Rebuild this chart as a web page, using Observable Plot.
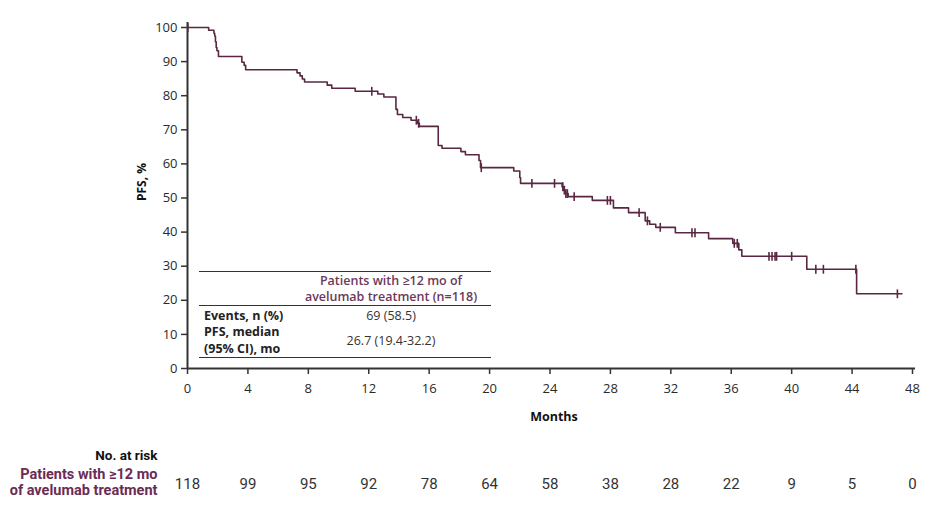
<!DOCTYPE html>
<html><head><meta charset="utf-8">
<script src="https://cdn.jsdelivr.net/npm/d3@7"></script>
<script src="https://cdn.jsdelivr.net/npm/@observablehq/plot@0.6"></script>
<style>
body{margin:0;background:#fff;}
#wrap{position:relative;width:946px;height:512px;font-family:"Open Sans",sans-serif;color:#2a2a2a;}
#wrap svg{position:absolute;left:0;top:0;}
.hl{position:absolute;left:199px;width:292px;height:0;border-top:1.6px solid #333;}
.t{position:absolute;font-size:12.5px;line-height:14px;height:14px;white-space:nowrap;}
.lab{left:204px;font-weight:700;color:#222;}
.val{left:311px;width:160px;text-align:center;color:#333;}
.hdr{left:301px;width:180px;text-align:center;color:#6a3a5c;font-weight:600;}
</style></head><body><div id="wrap"></div>
<script>
// Kaplan-Meier steps (month of event, PFS % after event)
const eventMonths = [0, 1.4, 1.75, 1.8, 1.85, 1.9, 1.95, 2.05, 3.6, 3.75, 3.85, 7.25, 7.45, 7.6, 7.75, 9.25, 9.55, 11.1,
  12.6, 13.0, 13.8, 13.9, 14.25, 14.8, 15.2, 15.35, 16.6, 16.85, 18.1, 18.4, 19.3, 19.4, 21.6, 22.0, 22.05,
  24.8, 24.9, 25.0, 25.2, 26.8, 28.2, 29.2, 30.3, 30.6, 31.0, 32.3, 34.5, 36.1, 36.5, 36.7, 41.0, 44.3, 47.3];
const pfsValues = [100, 99.2, 98.3, 97.5, 95.8, 94.1, 93.2, 91.5, 89.8, 88.9, 87.6, 86.7, 85.8, 84.9, 84.0, 83.1, 82.2, 81.3,
  80.5, 79.6, 76.0, 74.5, 73.6, 72.8, 71.9, 71.0, 65.4, 64.6, 63.6, 62.7, 61.0, 58.9, 57.9, 56.0, 54.3,
  53.3, 52.3, 51.3, 50.4, 49.3, 47.1, 45.7, 43.3, 42.3, 41.4, 39.8, 38.1, 36.7, 34.8, 32.9, 29.1, 21.9, 21.9];
// Censored observations (months)
const censorMonths = [0.02, 12.2, 15.15, 15.3, 19.45, 22.8, 24.3, 24.85, 24.95, 25.05, 25.15, 25.6, 27.8, 28.0,
  29.9, 30.45, 31.3, 33.4, 33.6, 36.2, 36.4, 38.5, 38.7, 38.9, 39.0, 40.0, 41.6, 42.1, 44.25, 47.0];
// Number at risk
const riskMonths = [0, 4, 8, 12, 16, 20, 24, 28, 32, 36, 40, 44, 48];
const riskCounts = [118, 99, 95, 92, 78, 64, 58, 38, 28, 22, 9, 5, 0];
const xTickValues = [0, 4, 8, 12, 16, 20, 24, 28, 32, 36, 40, 44, 48];
const yTickValues = [0, 10, 20, 30, 40, 50, 60, 70, 80, 90, 100];

const curve = eventMonths.map((m, i) => ({m, s: pfsValues[i]}));
const survAt = t => { let s = 100; for (const d of curve) { if (d.m <= t) s = d.s; } return s; };
const censors = censorMonths.map(m => ({m, s: survAt(m)}));
const risk = riskMonths.map((m, i) => ({m, n: riskCounts[i]}));

const COL = "#5a2742";
const tickSym = {draw(ctx, size) { const r = Math.sqrt(size) / 2; ctx.moveTo(0, -r); ctx.lineTo(0, r); }};
const NARROW = "'Liberation Sans Narrow', 'Roboto', sans-serif";

const chart = Plot.plot({
  width: 946, height: 512,
  marginLeft: 187, marginRight: 34, marginTop: 27, marginBottom: 144,
  style: {fontFamily: "'Open Sans', sans-serif", fontSize: "13px", color: "#2a2a2a", background: "transparent", overflow: "visible"},
  x: {domain: [0, 48]},
  y: {domain: [0, 100]},
  marks: [
    Plot.axisX({ticks: xTickValues, tickSize: 6, tickPadding: 9, label: null, fontSize: 13, stroke: "#333", strokeWidth: 1.5}),
    Plot.axisY({ticks: yTickValues, tickSize: 6, tickPadding: 4, label: null, fontSize: 13, stroke: "#333", strokeWidth: 1.5}),
    Plot.ruleY([0], {x1: 0, x2: 48.2, stroke: "#333", strokeWidth: 2}),
    Plot.ruleX([0], {y1: 0, y2: 101.5, stroke: "#333", strokeWidth: 2}),
    Plot.line(curve, {x: "m", y: "s", curve: "step-after", stroke: COL, strokeWidth: 1.6}),
    Plot.dot(censors, {x: "m", y: "s", symbol: tickSym, r: 5, stroke: COL, strokeWidth: 1.6}),
    Plot.text(["PFS, %"], {frameAnchor: "left", rotate: -90, dx: -45, dy: 3, fontWeight: 700, fontSize: 12, fill: "#111"}),
    Plot.text(["Months"], {frameAnchor: "bottom", dx: 4, dy: 52, fontWeight: 700, fontSize: 12.5, fill: "#111"}),
    Plot.text(["No. at risk"], {frameAnchor: "bottom-left", dx: -30, dy: 91, textAnchor: "end", fontWeight: 700, fontSize: 13.5, fill: "#111", fontFamily: NARROW}),
    Plot.text(["Patients with \u226512 mo"], {frameAnchor: "bottom-left", dx: -30, dy: 110, textAnchor: "end", fontWeight: 700, fontSize: 14.5, fill: "#6a2c55", fontFamily: NARROW}),
    Plot.text(["of avelumab treatment"], {frameAnchor: "bottom-left", dx: -30, dy: 126, textAnchor: "end", fontWeight: 700, fontSize: 14.5, fill: "#6a2c55", fontFamily: NARROW}),
    Plot.text(risk, {x: "m", text: "n", frameAnchor: "bottom", dy: 120, fontSize: 15, fill: "#333", fontFamily: NARROW})
  ]
});
const wrap = document.getElementById("wrap");
wrap.appendChild(chart);

// embedded summary table
const rows = [
  ["hl", 271, ""],
  ["t hdr", 274, "Patients with \u226512 mo of"],
  ["t hdr", 290, "avelumab treatment (n=118)"],
  ["hl", 305, ""],
  ["t lab", 309, "Events, n (%)"],
  ["t val", 309, "69 (58.5)"],
  ["t lab", 325, "PFS, median"],
  ["t lab", 342, "(95% CI), mo"],
  ["t val", 334, "26.7 (19.4-32.2)"],
  ["hl", 357, ""]
];
for (const [cls, top, html] of rows) {
  const d = document.createElement("div");
  d.className = cls; d.style.top = top + "px"; d.textContent = html;
  wrap.appendChild(d);
}
</script></body></html>
